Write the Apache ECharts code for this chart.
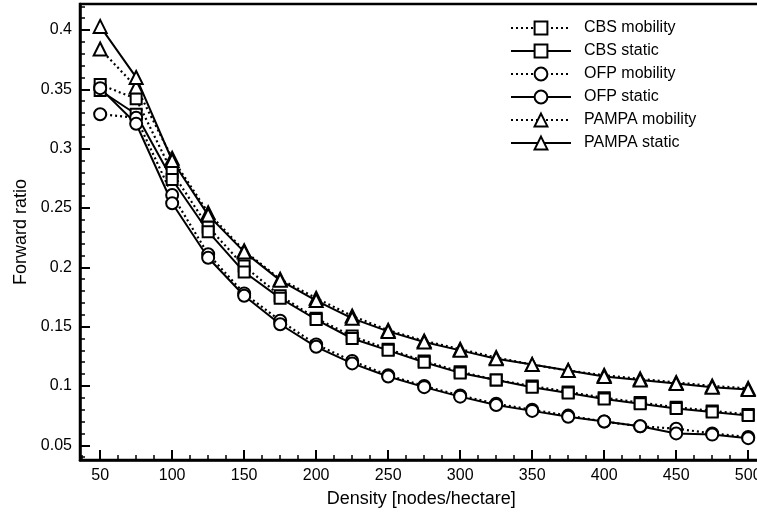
<!DOCTYPE html>
<html>
<head>
<meta charset="utf-8">
<script src="https://cdn.jsdelivr.net/npm/echarts@6/dist/echarts.min.js"></script>
<style>html,body{margin:0;padding:0;background:#fff}#c{width:757px;height:514px}</style>
</head>
<body>
<div id="c"></div>
<script>
var density = [50,75,100,125,150,175,200,225,250,275,300,325,350,375,400,425,450,475,500];
var cbsMobility   = [0.354,0.342,0.280,0.234,0.201,0.176,0.157,0.142,0.131,0.121,0.112,0.105,0.100,0.095,0.090,0.086,0.082,0.079,0.076];
var cbsStatic     = [0.349,0.329,0.274,0.230,0.196,0.174,0.156,0.140,0.130,0.120,0.111,0.105,0.099,0.094,0.089,0.085,0.081,0.078,0.075];
var ofpMobility   = [0.329,0.326,0.261,0.211,0.178,0.155,0.135,0.121,0.109,0.100,0.092,0.085,0.080,0.075,0.070,0.066,0.064,0.060,0.057];
var ofpStatic     = [0.351,0.321,0.254,0.208,0.176,0.152,0.133,0.119,0.108,0.099,0.091,0.084,0.079,0.074,0.070,0.066,0.060,0.059,0.056];
var pampaMobility = [0.384,0.352,0.292,0.246,0.214,0.190,0.174,0.159,0.147,0.138,0.131,0.124,0.118,0.113,0.109,0.106,0.103,0.100,0.098];
var pampaStatic   = [0.403,0.360,0.290,0.244,0.213,0.189,0.172,0.157,0.146,0.137,0.130,0.123,0.118,0.113,0.108,0.105,0.102,0.099,0.097];
var xTickLabels = [50,100,150,200,250,300,350,400,450,500];
var yTickLabels = [0.05,0.1,0.15,0.2,0.25,0.3,0.35,0.4];
var seriesNames = ['CBS mobility','CBS static','OFP mobility','OFP static','PAMPA mobility','PAMPA static'];

var xMinor = [];
for (var i = 0; i <= 38; i++) { xMinor.push(37.5 + 12.5 * i); }
var yMinor = [];
for (var j = 4; j <= 42; j++) { yMinor.push(+(j / 100).toFixed(2)); }

var FONT = 'Liberation Sans, Arial, Helvetica, sans-serif';
var XMIN = 36, XMAX = 510, YMIN = 0.0376, YMAX = 0.4219;

function pairs(arr) { return density.map(function (d, k) { return [d, arr[k]]; }); }
function mk(name, data, symbol, size, dotted) {
  return {
    name: name, type: 'line', data: pairs(data), xAxisIndex: 0, yAxisIndex: 0,
    symbol: symbol, symbolSize: size, showAllSymbol: true,
    itemStyle: { color: '#fff', borderColor: '#000', borderWidth: 2 },
    lineStyle: dotted ? { color: '#000', width: 2.2, type: [2, 3] } : { color: '#000', width: 2 },
    emphasis: { disabled: true }, animation: false
  };
}

var chart = echarts.init(document.getElementById('c'), null, { renderer: 'canvas' });
chart.setOption({
  animation: false,
  backgroundColor: '#fff',
  textStyle: { fontFamily: FONT },
  grid: { left: 80, top: 4, width: 682.6, height: 456, show: true, borderColor: '#000', borderWidth: 2.5,
    containLabel: false, outerBoundsMode: 'none' },
  legend: {
    orient: 'vertical', left: 505, top: 15, itemWidth: 60, itemHeight: 16, itemGap: 7,
    data: seriesNames,
    textStyle: { fontFamily: FONT, fontSize: 16, color: '#000', padding: [0, 0, 0, 8] },
    inactiveColor: '#000'
  },
  xAxis: [{
    type: 'value', min: XMIN, max: XMAX, gridIndex: 0,
    name: 'Density [nodes/hectare]', nameLocation: 'middle', nameGap: 30,
    nameTextStyle: { fontFamily: FONT, fontSize: 18, color: '#000' },
    axisLine: { show: true, onZero: false, lineStyle: { color: '#000', width: 2.5 } },
    axisTick: { show: true, inside: true, length: 10, customValues: xTickLabels, lineStyle: { color: '#000', width: 2 } },
    axisLabel: { customValues: xTickLabels, margin: 8, fontFamily: FONT, fontSize: 16, color: '#000', hideOverlap: false },
    splitLine: { show: false }
  }, {
    type: 'value', min: XMIN, max: XMAX, gridIndex: 0, position: 'bottom',
    axisLine: { show: false },
    axisTick: { show: true, inside: true, length: 5, customValues: xMinor, lineStyle: { color: '#000', width: 1.5 } },
    axisLabel: { show: false }, splitLine: { show: false }
  }],
  yAxis: [{
    type: 'value', min: YMIN, max: YMAX, gridIndex: 0,
    name: 'Forward ratio', nameLocation: 'middle', nameGap: 44,
    nameTextStyle: { fontFamily: FONT, fontSize: 18, color: '#000' },
    axisLine: { show: true, onZero: false, lineStyle: { color: '#000', width: 2.5 } },
    axisTick: { show: true, inside: true, length: 10, customValues: yTickLabels, lineStyle: { color: '#000', width: 2 } },
    axisLabel: { customValues: yTickLabels, margin: 8, fontFamily: FONT, fontSize: 16, color: '#000',
      formatter: function (v) { return String(+v.toFixed(2)); } },
    splitLine: { show: false }
  }, {
    type: 'value', min: YMIN, max: YMAX, gridIndex: 0, position: 'left',
    axisLine: { show: false },
    axisTick: { show: true, inside: true, length: 5, customValues: yMinor, lineStyle: { color: '#000', width: 1.5 } },
    axisLabel: { show: false }, splitLine: { show: false }
  }],
  series: [
    mk(seriesNames[0], cbsMobility, 'rect', 11, true),
    mk(seriesNames[1], cbsStatic, 'rect', 11, false),
    mk(seriesNames[2], ofpMobility, 'circle', 12, true),
    mk(seriesNames[3], ofpStatic, 'circle', 12, false),
    mk(seriesNames[4], pampaMobility, 'triangle', 13, true),
    mk(seriesNames[5], pampaStatic, 'triangle', 13, false)
  ]
});
</script>
</body>
</html>
